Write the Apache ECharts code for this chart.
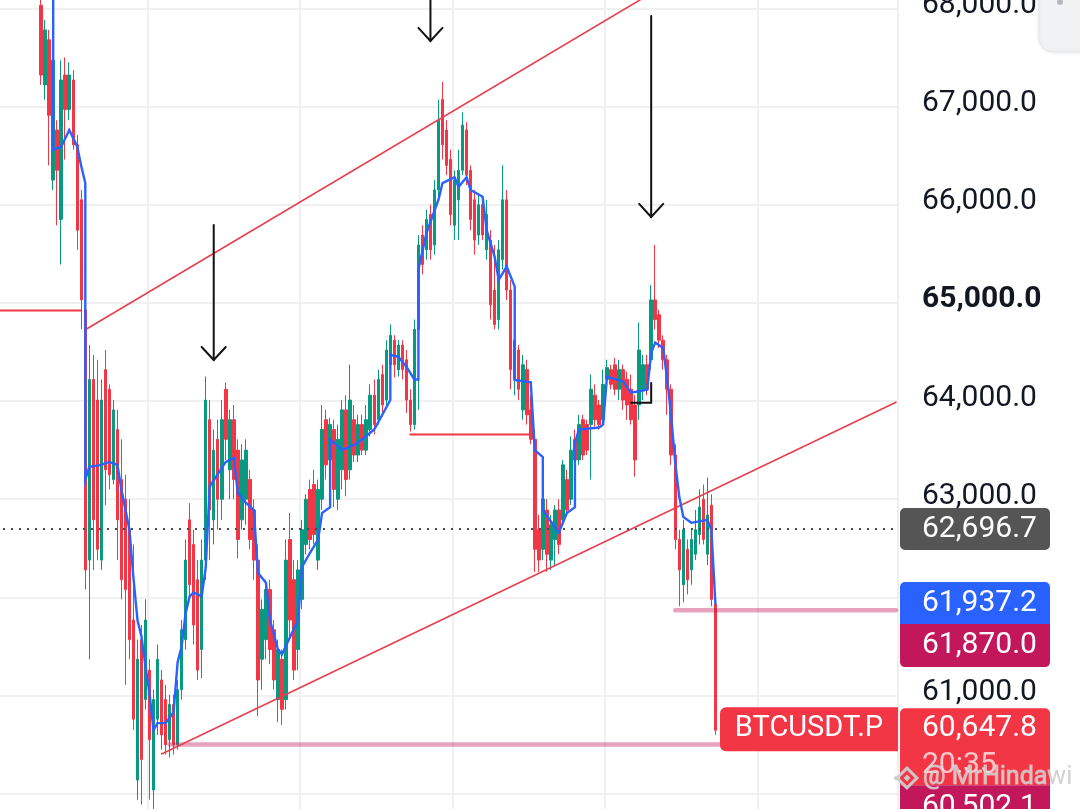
<!DOCTYPE html>
<html><head><meta charset="utf-8">
<script src="https://cdn.jsdelivr.net/npm/echarts@6/dist/echarts.min.js"></script>
<style>html,body{margin:0;padding:0;background:#fff;overflow:hidden}#c{width:1080px;height:809px}</style>
</head><body><div id="c"></div>
<script>
// ---------- data ----------
const CATEGORY_COUNT = 225;   // bar slots across the visible window
const FIRST_CANDLE = 11;      // slot of the first visible candle
// [open, close, low, high]
const candles = [
[68030,67320,67220,68190],[67220,67780,67070,67880],[67680,66910,66400,67780],[66250,67470,66150,67580],
[66760,66350,65790,66860],[65850,67270,65390,67470],[67320,66970,66460,67500],[66970,67320,66860,67450],
[67270,66610,66560,67370],[66610,65740,65540,66710],[66050,65030,64730,66150],[64930,62280,62080,65030],
[62380,64220,61370,64570],[64220,62790,62280,64470],[64010,62490,62380,64420],[62380,64010,62280,64220],
[64320,63300,62940,64520],[64120,63250,63100,64170],[63200,63910,63150,64010],[63710,62790,62380,63910],
[63200,62180,61980,63610],[63000,62080,61110,63250],[62690,61570,61370,63000],[61770,60760,60650,62540],
[60140,61370,59940,61570],[61570,60350,59890,61720],[60960,61770,60860,61980],[61260,60550,59940,61370],
[60040,60960,59790,61060],[60760,61370,60600,61520],[61160,60600,60450,61260],[60960,60500,60400,61110],
[60550,60910,60370,61010],[60910,60500,60400,61010],[60500,61060,60450,61160],[61060,61670,60960,61770],
[61570,62380,61470,62590],[62790,62130,61980,62960],[62540,61720,61520,62690],[62180,61260,61160,62380],
[61470,62380,61180,62590],[62380,64010,62180,64250],[63810,62890,62380,64010],[62790,63500,62540,63710],
[63610,63000,62690,63810],[63000,63810,62790,64010],[64120,63610,63400,64190],[63300,63810,63000,63910],
[63810,63200,63000,63960],[63500,62590,62400,63610],[62790,63400,62690,63560],[63000,63500,62740,63610],
[63200,62590,62490,63300],[62890,62380,62180,63000],[62380,61160,60790,62540],[61370,61880,61060,61980],
[61570,62080,61370,62180],[62080,61470,61320,62180],[61670,61160,61060,61770],[60960,61470,60730,61570],
[61370,60860,60700,61470],[60960,62380,60860,62590],[62590,61770,61570,62860],[62180,61260,61160,62380],
[61470,62280,61260,62380],[61980,62690,61880,62790],[62540,63000,62440,63050],[63100,62590,62490,63200],
[63150,62640,62540,63300],[62380,63100,62280,63200],[63000,63710,62890,63960],[63810,63350,63200,63910],
[63400,63760,63300,63830],[63710,63100,62920,63810],[63000,63610,62890,63760],[63300,63910,63100,64010],
[63910,63200,63030,64060],[63300,64010,63200,64370],[63810,63450,63380,63960],[63450,63760,63380,63860],
[63760,63500,63450,63860],[63500,63810,63450,63960],[63710,64060,63640,64170],[64060,63760,63660,64220],
[63810,64220,63760,64320],[64270,63960,63840,64370],[64010,64520,63960,64620],[64370,64670,64220,64780],
[64620,64370,64240,64670],[64320,64570,64250,64620],[64570,64320,64220,64620],[64420,64010,63880,64520],
[64010,63760,63690,64120],[63760,64730,63710,64830],[64730,65590,63910,65690],[65690,65390,65290,65790],
[65540,65850,65440,65950],[65900,65540,65440,66000],[65590,66150,65490,66250],[66150,66860,66050,67070],
[67070,66610,66460,67250],[66760,66400,66300,66860],[66460,65900,65790,66560],[65790,66250,65640,66350],
[66050,66350,65640,66560],[66350,66810,66300,66940],[66760,66300,66200,66840],[66350,65850,65740,66400],
[66050,65640,65490,66150],[65690,66000,65590,66100],[66000,65690,65640,66050],[65540,65900,65440,66050],
[65640,64980,64830,65740],[65130,64780,64730,65590],[64830,65540,64730,65640],[65440,66050,65340,66400],
[66050,65130,65030,66150],[65130,64320,64120,65230],[64220,64620,64060,64730],[64520,64120,64010,64570],
[63910,64370,63810,64470],[64320,63860,63760,64420],[63910,63610,63560,64060],[63610,62490,62260,63710],
[62690,62380,62260,62840],[62490,63000,62380,63100],[62890,62440,62260,63000],[62380,62740,62280,62840],
[62590,62890,62330,62940],[62890,62540,62440,63000],[62790,63350,62740,63400],[63200,62890,62840,63300],
[63000,63500,62940,63640],[63610,63400,63300,63710],[63400,63760,63350,63860],[63810,63450,63400,63860],
[63760,63500,63450,63810],[63760,64120,63200,64270],[64060,63810,63740,64170],[63960,63760,63710,64010],
[63810,64170,63760,64320],[64220,64340,64170,64420],[64320,64170,64120,64370],[64370,64120,64060,64440],
[64120,64320,64010,64420],[64320,64010,63910,64370],[64220,63960,63810,64300],[64120,63810,63760,64270],
[63960,63400,63230,64060],[63960,64520,63810,64800],[64120,64370,64010,64470],[64370,64120,64060,64470],
[64420,65030,64320,65180],[65030,64830,64730,65590],[64880,64620,64540,64930],[64620,64420,64320,64670],
[64420,64120,63860,64470],[64120,63450,63350,64170],[63450,62590,62490,63560],[62590,62280,61910,62690],
[62130,62690,61950,62790],[62490,62180,62030,62590],[62280,62590,62130,62690],[62440,62690,62380,62890],
[62640,62920,62540,63100],[63000,62590,62540,63150],[62440,62840,62330,63220],[62940,61980,61910,63050],
[61930,60647.8,60600,61980]
];
// blue indicator line: [slot, price]
const blueLine = [
[14,68190],[14,66560],[16,66590],[18,66760],[20,66590],[21,66390],[22,66220],[22,63200],[23,63330],
[26,63350],[28,63380],[30,63350],[31,63100],[33,62690],[34,62200],[35,61770],[36,61600],[37,61300],
[38,61020],[39,60650],[40,60720],[42,60720],[44,60830],[45,61340],[46,61500],[47,61840],[48,62010],
[49,62050],[51,62010],[52,62300],[53,63130],[57,63380],[59,63420],[60,63065],[62,62965],[64,62890],
[65,62250],[67,62150],[68,61770],[70,61470],[71,61420],[75,61770],[76,62310],[78,62455],[80,62590],
[81,62860],[83,62920],[83,63610],[86,63500],[90,63575],[94,63710],[98,64010],[98,64470],[100,64450],
[102,64350],[104,64220],[105,64220],[105,65340],[107,65710],[110,66050],[111,66220],[114,66280],
[115,66180],[117,66280],[118,66150],[121,66080],[122,65740],[124,65470],[125,65235],[127,65370],
[129,65165],[129,64215],[133,64190],[134,63500],[136,63430],[136,62890],[140,62660],[142,62860],
[144,62920],[144,63575],[145,63710],[150,63730],[151,63760],[152,64250],[156,64200],[158,64085],
[162,64115],[163,64490],[164,64595],[166,64540],[167,64215],[168,63840],[169,63370],[170,63025],
[171,62820],[173,62760],[177,62790],[178,62690],[179,61937.2]
];
const channelUpper = [[22,64726],[163,68153]];
const channelLower = [[41,60406],[224,63987]];
const redLevelLeft = [[0,64922],[21,64922]];
const redLevelMid = [[103,63660],[133,63660]];
const pinkLevelLow = [[43,60502.1],[180,60502.1]];
const pinkLevelHigh = [[169,61870],[224,61870]];
const dottedLevel = 62696.7;
const arrowLines = [
  [[54,65793],[54,64418]], [[51,64550],[54,64418],[57,64550]],
  [[108,68300],[108,67667]], [[105,67800],[108,67667],[111,67800]],
  [[163,67922],[163,65875]], [[160,66008],[163,65875],[166,66008]],
  [[158,63982],[163,63982],[163,64185]]
];
const hiddenTicks = [62000, 60000];   // covered by the price tags in the original
const tagValues = [62696.7, 61937.2, 61870.0, 60647.8, 60502.1];
const countdownText = '20:35';
const symbolText = 'BTCUSDT.P';
const watermarkText = '@ MrHindawi';

// ---------- build ----------
const categories = Array.from({length: CATEGORY_COUNT}, (_, i) => String(i));
const candleData = categories.map((_, i) => {
  const k = i - FIRST_CANDLE;
  return (k >= 0 && k < candles.length) ? candles[k] : '-';
});
const fmt = v => v.toFixed(1).replace(/\B(?=(\d{3})+(?!\d))/g, ',');

function lineSeries(data, color, width, extra) {
  return Object.assign({
    type: 'line', data: data, symbol: 'none', silent: true, animation: false,
    lineStyle: {color: color, width: width, cap: 'round', join: 'miter'}, z: 4
  }, extra || {});
}

const RED = '#F23645', TEAL = '#089981';
const series = [
  {
    type: 'candlestick', data: candleData, barWidth: 3, animation: false, silent: true, z: 2,
    itemStyle: {color: TEAL, color0: RED, borderColor: TEAL, borderColor0: RED, borderWidth: 1},
    markLine: {
      symbol: 'none', silent: true, animation: false,
      label: {show: false},
      lineStyle: {color: '#4a4a4a', type: [2, 6], width: 2},
      data: [{yAxis: dottedLevel}]
    }
  },
  lineSeries(pinkLevelLow, 'rgba(194,24,91,0.4)', 4.5, {z: 3}),
  lineSeries(pinkLevelHigh, 'rgba(194,24,91,0.4)', 4.5, {z: 3}),
  lineSeries(channelUpper, '#E5404E', 1.6),
  lineSeries(channelLower, '#E5404E', 1.6),
  lineSeries(redLevelLeft, RED, 2),
  lineSeries(redLevelMid, RED, 2),
  lineSeries(blueLine, '#2962FF', 2.4, {z: 5})
];
arrowLines.forEach(a => series.push(lineSeries(a, '#111111', 2, {z: 6})));

const option = {
  backgroundColor: '#ffffff',
  animation: false,
  grid: {left: -5, right: 182, top: -89.9, bottom: -83, outerBoundsMode: 'none', containLabel: false},
  xAxis: {
    type: 'category', data: categories, boundaryGap: true,
    axisLine: {show: false}, axisTick: {show: false}, axisLabel: {show: false},
    splitLine: {show: true, interval: (idx) => idx > 0 && idx % 38 === 0,
      lineStyle: {color: '#f0f0f0', width: 2}}
  },
  yAxis: {
    type: 'value', position: 'right', min: 59000, max: 69000, interval: 1000, scale: true,
    axisLine: {show: false}, axisTick: {show: false},
    splitLine: {show: true, lineStyle: {color: '#f0f0f0', width: 2}},
    axisLabel: {
      margin: 24, color: '#131722', fontSize: 30, fontFamily: 'Roboto',
      padding: [0, 0, 6, 0],
      formatter: v => (hiddenTicks.indexOf(v) >= 0 ? '' : (v === 65000 ? '{b|' + fmt(v) + '}' : fmt(v))),
      rich: {b: {fontWeight: 'bold', fontSize: 30, fontFamily: 'Roboto', color: '#131722'}}
    }
  },
  series: series
};

const chart = echarts.init(document.getElementById('c'), null, {renderer: 'canvas'});
chart.setOption(option);

const py = v => chart.convertToPixel({yAxisIndex: 0}, v);
const FONT = '30px Roboto';
function tag(top, h, fill, txt, r) {
  return [
    {type: 'rect', z: 100, shape: {x: 900, y: top, width: 150, height: h, r: r || 5}, style: {fill: fill}},
    {type: 'text', z: 101, style: {x: 922, y: top + h / 2, text: txt, font: FONT, fill: '#ffffff', verticalAlign: 'middle'}}
  ];
}
const gTop = py(tagValues[0]) - 21;
const bTop = py(tagValues[1]) - 21.5;
const cTop = bTop + 42;
const rTop = py(tagValues[3]) - 22;
const c2Top = rTop + 77;
let graphic = [];
graphic = graphic.concat(tag(gTop, 42, '#555555', fmt(tagValues[0])));
graphic = graphic.concat(tag(bTop, 42, '#2962FF', fmt(tagValues[1]), [5, 5, 0, 0]));
graphic = graphic.concat(tag(cTop, 43, '#C2185B', fmt(tagValues[2]), [0, 0, 5, 5]));
graphic.push({type: 'rect', z: 100, shape: {x: 900, y: rTop, width: 150, height: 77, r: [5, 5, 0, 0]}, style: {fill: RED}});
graphic.push({type: 'text', z: 101, style: {x: 922, y: rTop + 20, text: fmt(tagValues[3]), font: FONT, fill: '#ffffff', verticalAlign: 'middle'}});
graphic.push({type: 'text', z: 101, style: {x: 922, y: rTop + 57, text: countdownText, font: FONT, fill: 'rgba(255,255,255,0.72)', verticalAlign: 'middle'}});
graphic = graphic.concat(tag(c2Top, 44, '#C2185B', fmt(tagValues[4]), [0, 0, 5, 5]));
// symbol label
graphic.push({type: 'rect', z: 100, shape: {x: 720, y: rTop - 1, width: 178, height: 44, r: [6, 0, 0, 6]}, style: {fill: RED}});
graphic.push({type: 'text', z: 101, style: {x: 809, y: rTop + 21, text: symbolText, font: '29px Roboto', fill: '#ffffff', align: 'center', verticalAlign: 'middle'}});
// watermark
graphic.push({type: 'text', z: 110, style: {x: 923, y: 778, text: watermarkText, font: '25px Roboto', fill: 'rgba(205,205,205,0.92)', stroke: 'rgba(255,255,255,0.5)', lineWidth: 1, verticalAlign: 'middle'}});
graphic.push({type: 'rect', z: 110, x: 907, y: 778, rotation: Math.PI / 4, shape: {x: -7, y: -7, width: 14, height: 14}, style: {fill: 'none', stroke: 'rgba(205,205,205,0.95)', lineWidth: 3}});
graphic.push({type: 'rect', z: 110, x: 907, y: 778, rotation: Math.PI / 4, shape: {x: -2.5, y: -2.5, width: 5, height: 5}, style: {fill: 'rgba(205,205,205,0.95)'}});
graphic.push({type: 'rect', z: 110, x: 896, y: 778, rotation: Math.PI / 4, shape: {x: -2, y: -2, width: 4, height: 4}, style: {fill: 'rgba(205,205,205,0.95)'}});
// top-right floating button
graphic.push({type: 'rect', z: 120, shape: {x: 1039, y: -20, width: 70, height: 72, r: 14}, style: {fill: '#f1f2f4', stroke: '#e4e5e8', lineWidth: 1, shadowBlur: 4, shadowColor: 'rgba(0,0,0,0.08)'}});
graphic.push({type: 'circle', z: 121, shape: {cx: 1060, cy: 2, r: 3}, style: {fill: '#b5b8bf'}});

chart.setOption({graphic: graphic});
</script></body></html>
